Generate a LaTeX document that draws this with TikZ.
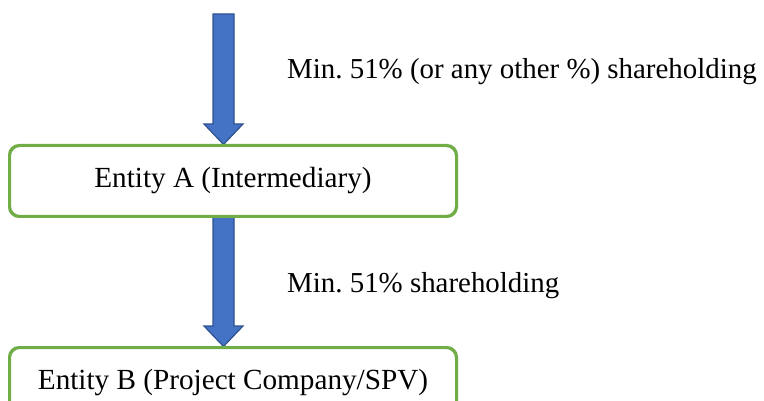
\documentclass[tikz,border=0pt]{standalone}
\usepackage{fontspec}
\setmainfont{Liberation Serif}
\frenchspacing
\definecolor{boxgreen}{HTML}{70AD47}
\definecolor{arrowblue}{HTML}{4472C4}
\definecolor{arrowedge}{HTML}{2F528F}
\begin{document}
\begin{tikzpicture}[x=1pt,y=-1pt,
  entity/.style={draw=boxgreen, line width=2pt, rounded corners=10pt, fill=white,
    minimum width=446pt, minimum height=70pt, inner sep=0pt,
    font=\fontsize{29.2}{34}\selectfont},
  blockarrow/.style={draw=arrowedge, fill=arrowblue, line width=1.2pt, line join=miter},
  lbl/.style={anchor=base west, inner sep=0pt, font=\fontsize{28.9}{34}\selectfont}]
\useasboundingbox (0,0) rectangle (764,401);
\clip (0,0) rectangle (764,401);

\node[entity] (A) at (233,181) {Entity A (Intermediary)};
\node[entity] (B) at (233,383) {Entity B (Project Company/SPV)};

\coordinate (top) at (223.5,14);
\coordinate (tipA) at (A.north -| top);
\coordinate (startB) at (A.south -| top);
\coordinate (tipB) at (B.north -| top);

\draw[blockarrow] ([xshift=-10.5pt]top) -- ([xshift=10.5pt]top)
  -- ([xshift=10.5pt,yshift=21pt]tipA) -- ([xshift=19.5pt,yshift=21pt]tipA)
  -- ([yshift=0.5pt]tipA) -- ([xshift=-19.5pt,yshift=21pt]tipA)
  -- ([xshift=-10.5pt,yshift=21pt]tipA) -- cycle;
\draw[blockarrow] ([xshift=-10.5pt]startB) -- ([xshift=10.5pt]startB)
  -- ([xshift=10.5pt,yshift=21pt]tipB) -- ([xshift=19.5pt,yshift=21pt]tipB)
  -- ([yshift=0.5pt]tipB) -- ([xshift=-19.5pt,yshift=21pt]tipB)
  -- ([xshift=-10.5pt,yshift=21pt]tipB) -- cycle;

\draw[boxgreen, line width=2pt, rounded corners=10pt] (A.south west) rectangle (A.north east);
\draw[boxgreen, line width=2pt, rounded corners=10pt] (B.south west) rectangle (B.north east);

\node[lbl] (l1) at (287,79) {Min. 51\% (or any other \%) shareholding};
\node[lbl] (l2) at (287,293) {Min. 51\% shareholding};
\end{tikzpicture}
\end{document}
